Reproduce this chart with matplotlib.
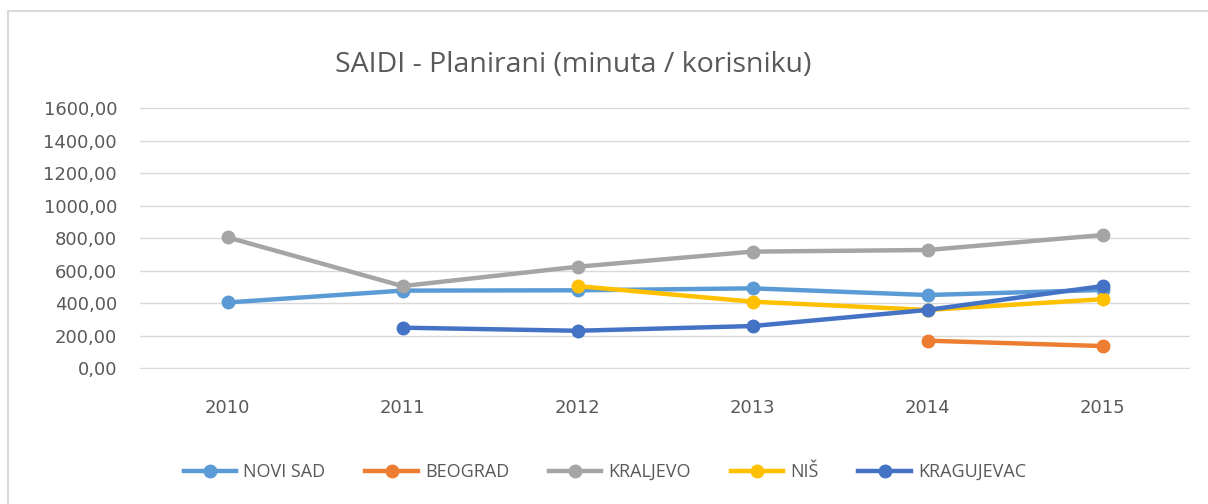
import numpy as np
import matplotlib
matplotlib.use("Agg")
import matplotlib.pyplot as plt
from matplotlib.lines import Line2D

plt.rcParams['font.family'] = ['Open Sans', 'DejaVu Sans']

years = ['2010', '2011', '2012', '2013', '2014', '2015']
novi_sad = [405, 478, 480, 492, 451, 482]
beograd = [np.nan, np.nan, np.nan, np.nan, 170, 137]
kraljevo = [806, 506, 625, 718, 728, 820]
nis = [np.nan, np.nan, 506, 410, 359, 425]
kragujevac = [np.nan, 250, 231, 260, 359, 506]
yticks = [0, 200, 400, 600, 800, 1000, 1200, 1400, 1600]

series = [
    ('NOVI SAD', novi_sad, '#5B9BD5'),
    ('BEOGRAD', beograd, '#ED7D31'),
    ('KRALJEVO', kraljevo, '#A5A5A5'),
    ('NIŠ', nis, '#FFC000'),
    ('KRAGUJEVAC', kragujevac, '#4472C4'),
]

txt = '#595959'
fig = plt.figure(figsize=(12.08, 5.04), dpi=100)
# small margin in data units so the 0 and 1600 gridlines are not half clipped
ax = fig.add_axes([140 / 1208, 1 - 369.3 / 504, 1050 / 1208, 262 / 504])

x = np.arange(len(years))
for name, vals, col in series:
    ax.plot(x, vals, color=col, lw=3.2, marker='o', ms=9, label=name,
            solid_capstyle='round')

ax.set_xlim(-0.5, len(years) - 0.5)
ax.set_ylim(-6.15, 1606.15)
ax.set_yticks(yticks)
ax.set_yticklabels(['%d,00' % v for v in yticks])
ax.set_xticks(x)
ax.set_xticklabels(years)
ax.grid(axis='y', color='#D9D9D9', lw=1)
ax.set_axisbelow(True)
for s in ax.spines.values():
    s.set_visible(False)
ax.tick_params(length=0, labelsize=13, colors=txt)
for lab in ax.get_xticklabels() + ax.get_yticklabels():
    lab.set_family(['DejaVu Sans'])
ax.tick_params(axis='y', pad=16.5)
ax.tick_params(axis='x', pad=21.5)

fig.text(573 / 1208, 1 - 65 / 504, 'SAIDI - Planirani (minuta / korisniku)',
         ha='center', va='center', fontsize=20.5, color=txt)

handles = [Line2D([], [], color=c, lw=3.2, marker='o', ms=9) for _, _, c in series]
fig.legend(handles, [n for n, _, _ in series], loc='center',
           bbox_to_anchor=(605 / 1208, 1 - 472 / 504), ncol=5, frameon=False,
           fontsize=13, labelcolor=txt, handlelength=2.9, handletextpad=0.4,
           columnspacing=2.2)

# chart area border (only top and left edges fall inside the image)
fig.add_artist(Line2D([8 / 1208, 1], [1 - 11 / 504, 1 - 11 / 504],
                      transform=fig.transFigure, color='#D9D9D9', lw=1.5))
fig.add_artist(Line2D([8 / 1208, 8 / 1208], [0, 1 - 11 / 504],
                      transform=fig.transFigure, color='#D9D9D9', lw=1.5))

fig.savefig('out.png', dpi=100)
